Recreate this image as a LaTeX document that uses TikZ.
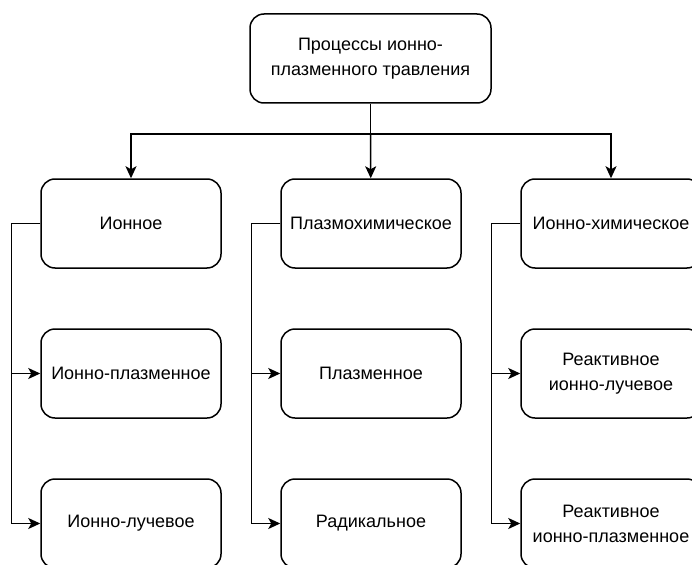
\documentclass[tikz,border=0pt]{standalone}
\usepackage{fontspec}
\setmainfont{Liberation Sans}
\usetikzlibrary{arrows.meta}

\tikzset{
  box/.style={draw=black,line width=1.5pt,rounded corners=14pt,
    minimum width=180pt,minimum height=89pt,align=center,
    font=\fontsize{18}{25}\selectfont},
  arr/.style={draw=black,line width=1.5pt,-{Stealth[length=12pt,width=11pt,inset=3pt]}},
  ln/.style={draw=black,line width=1.5pt}
}

\begin{document}
\begin{tikzpicture}[x=1pt,y=-1pt]
    \useasboundingbox (0,0) rectangle (692,564);
    \clip (0,0) rectangle (692,564);
    \node[box,minimum width=241pt] (A) at (370.5,58.5) {Процессы ионно-\\плазменного травления};
    \node[box] (B) at (131,223.5) {Ионное};
    \node[box] (C) at (371,223.5) {Плазмохимическое};
    \node[box] (D) at (611,223.5) {Ионно-химическое};
    \node[box] (E) at (131,373.5) {Ионно-плазменное};
    \node[box] (F) at (371,373.5) {Плазменное};
    \node[box] (G) at (611,373.5) {Реактивное\\ионно-лучевое};
    \node[box] (H) at (131,523.5) {Ионно-лучевое};
    \node[box] (I) at (371,523.5) {Радикальное};
    \node[box] (J) at (611,523.5) {Реактивное\\ионно-плазменное};
    \coordinate (K) at (370.5,134);
    \draw [ln] (A) -- (K);
    \draw [arr] (K) -| (B);
    \draw [arr] (K) -- (C);
    \draw [arr] (K) -| (D);
    % side branches
    \draw [arr] (B.west) -- ++(-29,0) |- (E);
    \draw [arr] (B.west) -- ++(-29,0) |- (H);
    \draw [arr] (C.west) -- ++(-29,0) |- (F);
    \draw [arr] (C.west) -- ++(-29,0) |- (I);
    \draw [arr] (D.west) -- ++(-29,0) |- (G);
    \draw [arr] (D.west) -- ++(-29,0) |- (J);
\end{tikzpicture}
\end{document}
